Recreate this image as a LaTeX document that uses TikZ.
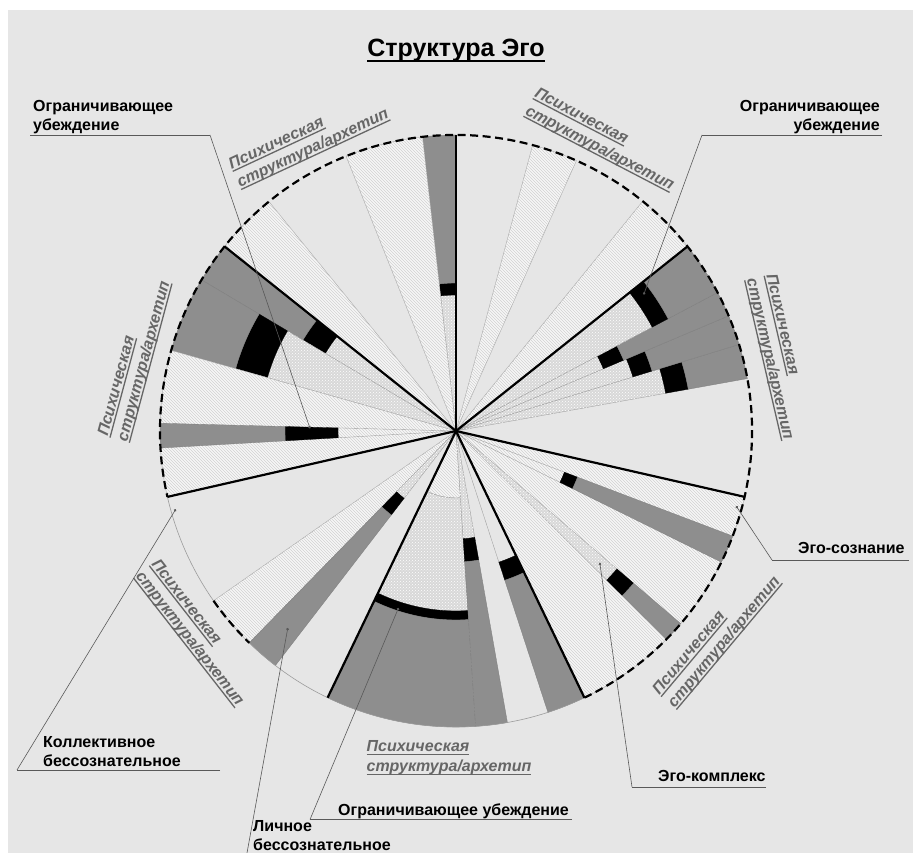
\documentclass[tikz,border=0pt]{standalone}
\usepackage{fontspec}
\setmainfont{Liberation Sans}
\usetikzlibrary{patterns,arrows.meta}
\definecolor{bg}{HTML}{E6E6E6}
\definecolor{hb}{HTML}{F6F6F6}
\definecolor{hl}{HTML}{D2D2D2}
\definecolor{db}{HTML}{D8D8D8}
\definecolor{gbar}{HTML}{8E8E8E}
\definecolor{lab}{HTML}{666666}
\definecolor{lnc}{HTML}{9C9C9C}
\def\pieR{296}
\newcommand\pieSec[4]{\path[#4] (0,0) -- (#1:#3) arc[start angle=#1,end angle=#2,radius=#3] -- cycle;}
\newcommand\pieBand[5]{\path[#5] (#1:#3) arc[start angle=#1,end angle=#2,radius=#3] -- (#2:#4) arc[start angle=#2,end angle=#1,radius=#4] -- cycle;}
\newcommand\pieBar[5]{\pieSec{#1}{#2}{#4}{#3}\pieBand{#1}{#2}{#4}{#5}{blackW}\pieBand{#1}{#2}{#5}{\pieR}{grayW}}
\newcommand\gul[1]{\leavevmode\setbox0\hbox{#1}\rlap{\rule[-3pt]{\wd0}{1.3pt}}\box0}
\newcommand\tul[1]{\leavevmode\setbox0\hbox{#1}\rlap{\rule[-5pt]{\wd0}{1.8pt}}\box0}
\tikzset{
  hatchW/.style={fill=hb, postaction={pattern=north west lines, pattern color=hl}, draw=lnc, line width=0.35pt},
  dotW/.style={fill=db, postaction={pattern=crosshatch dots, pattern color=white}, draw=lnc, line width=0.35pt},
  plainW/.style={draw=lnc, line width=0.35pt},
  grayW/.style={fill=gbar, draw=black!50, line width=0.35pt},
  blackW/.style={fill=black, draw=black, line width=0.3pt},
  bound/.style={draw=black, line width=2.2pt},
  dasharc/.style={draw=black, line width=2.2pt, dash pattern=on 8pt off 4.5pt},
  thinarc/.style={draw=lnc, line width=0.6pt},
  blab/.style={font=\fontsize{16}{19}\selectfont\bfseries, inner sep=0pt},
  glab/.style={font=\fontsize{16}{20}\selectfont\bfseries\itshape, text=lab, inner sep=0pt, align=left},
  leader/.style={draw=black!65, line width=0.6pt},
  ptip/.style={-{Circle[length=2.6pt]}}
}
\begin{document}
\begin{tikzpicture}[x=1pt,y=1pt]
\useasboundingbox (0,0) rectangle (913,853);
\fill[white] (0,0) rectangle (913,853);
\fill[bg] (8,0) rectangle (913,843);

\begin{scope}[shift={(456,422)}]
  % S1
  \pieSec{38.57}{50.9}{\pieR}{hatchW}
  \pieSec{66}{75}{\pieR}{hatchW}
  % S7
  \pieBar{90}{96.5}{dotW}{136}{148}
  \pieSec{96.5}{111.8}{\pieR}{hatchW}
  \pieSec{129.2}{141.43}{\pieR}{hatchW}
  % S6
  \pieBar{141.43}{149.3}{dotW}{152}{178}
  \pieBar{149.3}{164.2}{dotW}{196}{229}
  \pieSec{164.2}{192.86}{\pieR}{hatchW}
  \pieBar{178.5}{183.3}{plainW}{118}{171}
  % S5
  \pieSec{215}{225.7}{\pieR}{hatchW}
  \pieBar{225.7}{232.4}{dotW}{85}{106}
  % S4
  \pieSec{244.29}{273.8}{67}{hatchW}
  \pieBand{244.29}{273.8}{67}{180}{dotW}
  \pieBand{244.29}{273.8}{180}{189}{blackW}
  \pieBand{244.29}{273.8}{189}{\pieR}{grayW}
  \pieBar{273.8}{280}{dotW}{108}{131}
  \pieBar{288.1}{295.71}{plainW}{138}{157}
  % S3
  \pieSec{-64.29}{-12.86}{\pieR}{hatchW}
  \pieBar{-26.3}{-20.8}{plainW}{116}{130}
  \pieBar{-44.7}{-40.6}{dotW}{212}{234}
  % S2
  \pieBar{10.2}{17}{dotW}{213}{236}
  \pieBar{17}{22.9}{dotW}{185}{205}
  \pieBar{22.9}{27.9}{dotW}{160}{182}
  \pieBar{27.9}{38.57}{dotW}{222}{240}
  % outer arcs
  \draw[thinarc] (192.86:\pieR) arc[start angle=192.86,end angle=215,radius=\pieR];
  \draw[thinarc] (225.7:\pieR) arc[start angle=225.7,end angle=295.71,radius=\pieR];
  \draw[dasharc] (-64.29:\pieR) arc[start angle=-64.29,end angle=192.86,radius=\pieR];
  \draw[dasharc] (215:\pieR) arc[start angle=215,end angle=225.7,radius=\pieR];
  % sector boundaries
  \foreach \a in {90,38.57,-12.86,-64.29,-115.71,-167.14,141.43}
    \draw[bound] (0,0) -- (\a:\pieR);
  % pointer targets
  \coordinate (ptl) at (179:146);
  \coordinate (ptr) at (36:232);
  \coordinate (pes) at (-15:290);
  \coordinate (pek) at (-42.5:195);
  \coordinate (pbo) at (252:186);
  \coordinate (pli) at (229.5:259);
  \coordinate (pko) at (195.6:291);
\end{scope}

% title
\node[font=\fontsize{25}{30}\selectfont\bfseries, anchor=base, inner sep=0pt] (title) at (456,796) {\tul{Структура Эго}};

% black labels
\node[blab, anchor=south west, align=left] (tlL) at (33,718.5) {Ограничивающее\\убеждение};
\node[blab, anchor=south east, align=right] (trL) at (880,718.5) {Ограничивающее\\убеждение};
\node[blab, anchor=base west] (esL) at (798,299) {Эго-сознание};
\node[blab, anchor=base west] (ekL) at (658,71) {Эго-комплекс};
\node[blab, anchor=base west] (boL) at (338,37) {Ограничивающее убеждение};
\node[blab, anchor=north west, align=left] (liL) at (253,32.5) {Личное\\бессознательное};
\node[blab, anchor=south west, align=left] (koL) at (43,86) {Коллективное\\бессознательное};

% gray rotated labels
\node[glab, rotate=25] (g1) at (309,713) {\gul{Психическая}\\\gul{структура/архетип}};
\node[glab, rotate=-27.5] (g2) at (604,713) {\gul{Психическая}\\\gul{структура/архетип}};
\node[glab, rotate=-77] (g3) at (779,496) {\gul{Психическая}\\\gul{структура/архетип}};
\node[glab, rotate=50] (g4) at (717,217) {\gul{Психическая}\\\gul{структура/архетип}};
\node[glab] (g5) at (449,95) {\gul{Психическая}\\\gul{структура/архетип}};
\node[glab, rotate=-52] (g6) at (197,220) {\gul{Психическая}\\\gul{структура/архетип}};
\node[glab, rotate=75] (g7) at (135,494) {\gul{Психическая}\\\gul{структура/архетип}};

% underline / leader coordinates
\coordinate (tlA) at (30,718);  \coordinate (tlB) at (210,718);
\coordinate (trA) at (882,718); \coordinate (trB) at (702,718);
\coordinate (esA) at (909,293); \coordinate (esB) at (772,293);
\coordinate (ekA) at (766,66);  \coordinate (ekB) at (632,66);
\coordinate (boA) at (572,33.5);\coordinate (boB) at (310,33.5);
\coordinate (liB) at (247,0);
\coordinate (koA) at (220,83);  \coordinate (koB) at (17,83);

\draw[leader] (tlA) -- (tlB); \draw[leader,ptip] (tlB) -- (ptl);
\draw[leader] (trA) -- (trB); \draw[leader,ptip] (trB) -- (ptr);
\draw[leader] (esA) -- (esB); \draw[leader,ptip] (esB) -- (pes);
\draw[leader] (ekA) -- (ekB); \draw[leader,ptip] (ekB) -- (pek);
\draw[leader] (boA) -- (boB); \draw[leader,ptip] (boB) -- (pbo);
\draw[leader,ptip] (liB) -- (pli);
\draw[leader] (koA) -- (koB); \draw[leader,ptip] (koB) -- (pko);
\end{tikzpicture}
\end{document}
